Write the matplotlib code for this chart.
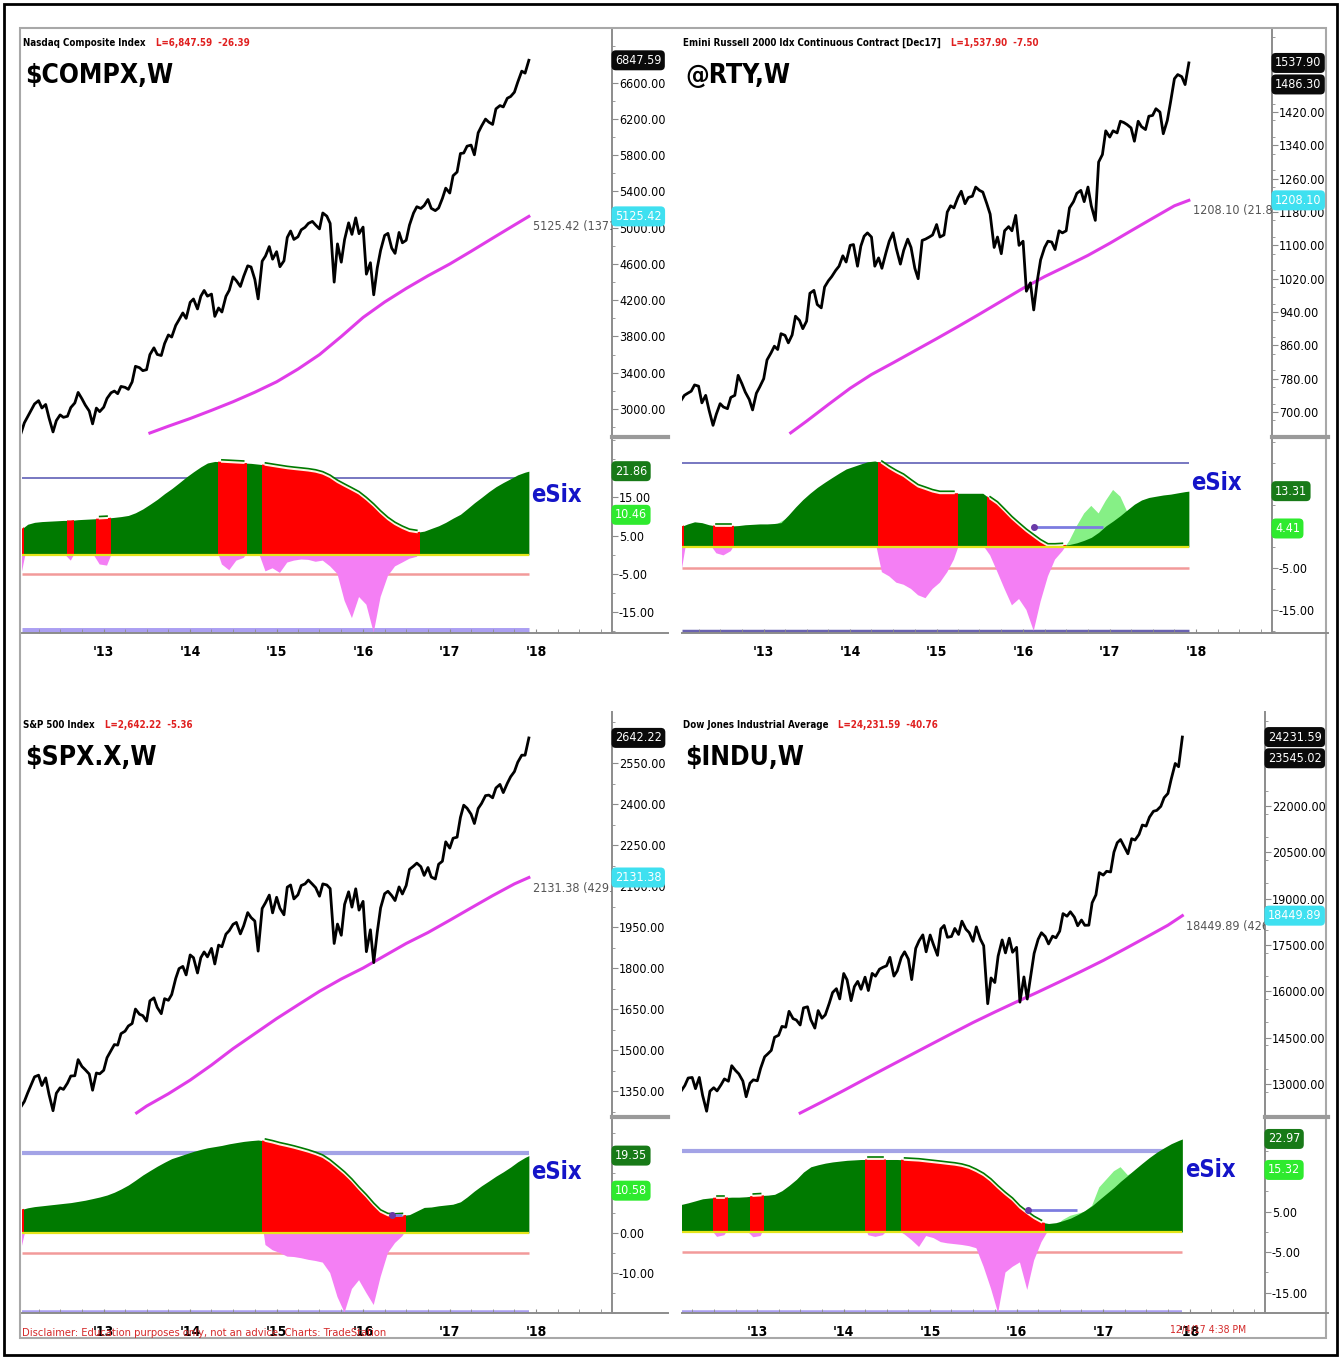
import numpy as np
import pandas as pd
import matplotlib
matplotlib.use("Agg")
import matplotlib.pyplot as plt
import matplotlib.dates as mdates
import matplotlib.ticker as mticker
import matplotlib.transforms as mtrans
from matplotlib.patches import Rectangle
from matplotlib.lines import Line2D
from datetime import datetime

W, H = 1343, 1360

# ---------------------------------------------------------------------------
# weekly charts, prices read off the picture on the 1st and 15th of each month
# (2012 starts on Jan 15, 2017 ends on Dec 1)
# ---------------------------------------------------------------------------
compx_2012 = [2710, 2848, 2915, 2988, 3056, 3092, 3011, 3050, 2902, 2747, 2872, 2935,
              2908, 2920, 3016, 3067, 3183, 3113, 3044, 2977, 2836, 3010, 2971]
compx_2013 = [3020, 3117, 3179, 3198, 3169, 3249, 3239, 3217, 3299, 3471, 3456, 3423,
              3434, 3600, 3675, 3602, 3590, 3722, 3817, 3794, 3922, 3985, 4060, 4000]
compx_2014 = [4177, 4214, 4104, 4244, 4308, 4245, 4268, 4022, 4115, 4070, 4243, 4310,
              4458, 4416, 4352, 4464, 4580, 4567, 4430, 4215, 4631, 4688, 4792, 4653]
compx_2015 = [4736, 4570, 4635, 4893, 4964, 4871, 4900, 4977, 5005, 5048, 5070, 5029,
              4987, 5163, 5128, 5048, 4400, 4822, 4620, 4870, 5054, 4927, 5109, 4934]
compx_2016 = [5007, 4488, 4614, 4260, 4558, 4750, 4915, 4938, 4775, 4717, 4948, 4834,
              4862, 5030, 5162, 5232, 5213, 5245, 5312, 5214, 5189, 5218, 5324, 5437]
compx_2017 = [5383, 5574, 5615, 5819, 5825, 5900, 5912, 5805, 6048, 6121, 6199, 6165,
              6140, 6312, 6348, 6333, 6429, 6448, 6496, 6606, 6728, 6706, 6848]

rty_2012 = [725, 740, 745, 750, 765, 762, 722, 740, 705, 668, 695, 720,
            712, 708, 735, 740, 788, 768, 748, 730, 705, 745, 760]
rty_2013 = [780, 825, 842, 858, 850, 888, 884, 866, 885, 930, 920, 900,
            918, 985, 992, 958, 950, 1000, 1015, 1025, 1040, 1050, 1075, 1060]
rty_2014 = [1100, 1102, 1050, 1098, 1122, 1130, 1120, 1050, 1070, 1045, 1082, 1110,
            1130, 1092, 1055, 1088, 1115, 1095, 1045, 1020, 1112, 1115, 1120, 1125]
rty_2015 = [1150, 1120, 1125, 1180, 1195, 1190, 1215, 1230, 1200, 1215, 1218, 1240,
            1232, 1228, 1200, 1175, 1095, 1120, 1080, 1135, 1145, 1135, 1172, 1100]
rty_2016 = [1110, 990, 1010, 945, 1015, 1065, 1095, 1110, 1108, 1090, 1135, 1130,
            1135, 1190, 1205, 1225, 1232, 1205, 1240, 1195, 1160, 1300, 1318, 1375]
rty_2017 = [1360, 1375, 1370, 1398, 1395, 1390, 1382, 1350, 1398, 1385, 1378, 1410,
            1412, 1428, 1420, 1368, 1400, 1445, 1500, 1510, 1505, 1486, 1538]

spx_2012 = [1289, 1312, 1343, 1374, 1402, 1408, 1370, 1398, 1338, 1278, 1342, 1362,
            1356, 1379, 1405, 1406, 1465, 1440, 1428, 1412, 1353, 1416, 1413]
spx_2013 = [1426, 1472, 1498, 1520, 1518, 1560, 1569, 1588, 1597, 1650, 1631, 1626,
            1606, 1680, 1691, 1656, 1633, 1688, 1682, 1703, 1762, 1798, 1806, 1775]
spx_2014 = [1848, 1838, 1782, 1838, 1859, 1841, 1872, 1815, 1884, 1878, 1924, 1937,
            1960, 1967, 1925, 1955, 2003, 1985, 1972, 1862, 2018, 2039, 2067, 2002]
spx_2015 = [2059, 2019, 1995, 2096, 2104, 2053, 2068, 2102, 2108, 2122, 2107, 2094,
            2063, 2108, 2104, 2091, 1890, 1961, 1920, 2033, 2079, 2023, 2090, 2012]
spx_2016 = [2044, 1860, 1940, 1820, 1932, 2020, 2072, 2081, 2065, 2047, 2097, 2071,
            2102, 2161, 2173, 2184, 2171, 2139, 2168, 2133, 2126, 2180, 2191, 2262]
spx_2017 = [2239, 2275, 2279, 2351, 2396, 2385, 2363, 2329, 2384, 2402, 2431, 2433,
            2423, 2459, 2472, 2442, 2476, 2500, 2519, 2553, 2579, 2579, 2642]

dji_2012 = [12422, 12633, 12781, 12952, 13194, 13212, 12850, 13213, 12632, 12119, 12767, 12880,
            12777, 12976, 13165, 13090, 13593, 13437, 13328, 13096, 12588, 13025, 13135]
dji_2013 = [13104, 13507, 13881, 13981, 14089, 14514, 14578, 14865, 14839, 15354, 15116, 15070,
            14910, 15464, 15500, 15081, 14810, 15376, 15130, 15237, 15615, 15962, 16086, 15755]
dji_2014 = [16577, 16374, 15699, 16154, 16322, 16066, 16458, 16026, 16581, 16491, 16717, 16776,
            16827, 17100, 16493, 16663, 17098, 17280, 17042, 16380, 17391, 17634, 17828, 17280]
dji_2015 = [17823, 17511, 17165, 18019, 18133, 17750, 17776, 18036, 17841, 18272, 18011, 17899,
            17620, 18086, 17690, 17477, 15600, 16434, 16285, 17141, 17664, 17245, 17720, 17265]
dji_2016 = [17425, 15650, 16466, 15750, 16517, 17229, 17685, 17897, 17774, 17535, 17787, 17733,
            17949, 18516, 18432, 18576, 18401, 18123, 18308, 18138, 18142, 18868, 19123, 19843]
dji_2017 = [19763, 19886, 19864, 20504, 20812, 20914, 20663, 20453, 20941, 20897, 21080, 21384,
            21350, 21637, 21830, 21858, 21988, 22268, 22405, 22871, 23377, 23271, 24232]

# pink 200-week average: first point, then every quarter start, then 12/1/17
compx_ma = [2735, 2810, 2895, 2985, 3080, 3185, 3300, 3440, 3600, 3800,
            4010, 4180, 4330, 4470, 4600, 4740, 4885, 5030, 5125.42]
rty_ma = [650, 678, 718, 757, 790, 818, 847, 876, 905, 935,
          966, 997, 1025, 1050, 1076, 1105, 1135, 1165, 1195, 1208.10]
spx_ma = [1270, 1295, 1340, 1390, 1445, 1505, 1560, 1615, 1665, 1715,
          1760, 1800, 1845, 1890, 1930, 1975, 2020, 2065, 2108, 2131.38]
dji_ma = [12060, 12420, 12790, 13160, 13530, 13900, 14270, 14630, 14990, 15330,
          15660, 15980, 16310, 16650, 17000, 17370, 17750, 18140, 18449.89]

# eSix indicator, read mid-month (the last point is the 12/1/17 value)
compx_slow = [6.5, 8.0, 8.5, 8.7, 8.8, 8.9, 9.0, 9.0, 9.2, 9.3, 9.4, 9.5,
              9.6, 9.8, 10.0, 10.3, 11.0, 12.0, 13.2, 14.5, 16.0, 17.3, 18.8, 20.3,
              21.7, 23.0, 24.0, 24.4, 24.3, 24.2, 24.1, 24.0, 23.9, 23.7, 23.5, 23.2,
              22.9, 22.6, 22.4, 22.2, 22.0, 21.7, 21.2, 20.3, 19.0, 18.0, 17.0, 16.0,
              14.5, 12.8, 11.0, 9.3, 8.0, 7.0, 6.2, 5.9, 6.2, 6.9, 7.6, 8.5,
              9.6, 10.6, 12.0, 13.6, 15.0, 16.5, 17.8, 18.9, 19.9, 20.9, 21.6, 21.86]
compx_fast = [-6.5, 3.0, 5.0, 4.0, 2.0, 1.0, 0.5, -1.5, 2.0, 1.5, 0.5, -2.5,
              -2.8, 2.0, 4.0, 5.0, 7.0, 8.0, 9.0, 10.0, 11.0, 12.0, 13.0, 14.0,
              15.0, 14.0, 10.0, 3.0, -2.5, -4.0, -1.5, -0.8, 2.0, 1.0, -4.3, -3.5,
              -4.7, -2.0, -1.5, -1.2, -1.3, -1.8, -1.5, -3.0, -5.0, -12.0, -16.5, -11.0,
              -13.0, -20.3, -11.0, -5.5, -3.0, -2.0, -1.0, -0.5, 2.0, 3.5, 5.0, 6.5,
              7.5, 8.5, 9.0, 9.5, 10.0, 10.0, 10.2, 10.3, 10.4, 10.4, 10.45, 10.46]

rty_slow = [4.8, 5.5, 6.0, 5.8, 5.3, 5.0, 5.0, 5.0, 5.1, 5.3, 5.4, 5.5,
            5.5, 5.6, 5.8, 7.6, 9.5, 11.3, 12.8, 14.2, 15.4, 16.5, 17.6, 18.6,
            19.2, 19.8, 20.3, 20.5, 20.0, 18.8, 17.8, 16.9, 15.6, 14.4, 13.8, 13.2,
            12.8, 12.8, 12.8, 12.8, 12.8, 12.8, 12.8, 11.5, 10.3, 8.6, 6.8, 5.3,
            3.8, 2.5, 1.3, 0.3, 0.3, 0.4, 0.6, 1.0, 1.6, 2.3, 3.5, 5.0,
            6.2, 7.5, 8.8, 10.2, 11.2, 11.8, 12.1, 12.4, 12.6, 12.9, 13.2, 13.31]
rty_fast = [-7.5, 3.0, 5.0, 4.0, 1.0, -1.5, -2.0, -1.0, 2.0, 2.5, 2.0, 3.0,
            4.0, 5.0, 6.0, 7.0, 9.0, 10.0, 11.0, 12.0, 13.0, 14.0, 15.0, 16.0,
            14.0, 12.0, 8.0, 2.0, -6.0, -7.0, -8.5, -9.0, -10.0, -11.5, -12.2, -10.0,
            -8.5, -6.0, -3.0, 2.0, 3.0, 2.0, 0.5, -2.0, -6.0, -10.0, -13.9, -12.4,
            -15.0, -20.0, -13.0, -7.0, -3.0, -1.0, 1.5, 5.0, 8.0, 9.8, 8.0, 11.0,
            13.6, 12.0, 8.5, 7.0, 5.0, 4.5, 4.5, 3.5, 4.0, 4.5, 4.4, 4.41]

spx_slow = [5.8, 6.3, 6.6, 6.8, 7.0, 7.2, 7.4, 7.6, 7.9, 8.2, 8.6, 9.0,
            9.5, 10.2, 11.0, 12.0, 13.2, 14.5, 15.6, 16.7, 17.7, 18.6, 19.2, 19.8,
            20.4, 20.9, 21.3, 21.6, 21.9, 22.3, 22.6, 22.9, 23.1, 23.25, 23.0, 22.6,
            22.1, 21.7, 21.3, 20.8, 20.3, 19.7, 19.0, 17.8, 16.3, 14.8, 13.0, 11.0,
            9.1, 7.0, 5.3, 4.4, 4.3, 4.4, 4.6, 5.5, 6.4, 6.5, 6.8, 7.0,
            7.2, 7.8, 9.0, 10.5, 11.8, 13.0, 14.2, 15.3, 16.5, 17.8, 18.9, 19.35]
spx_fast = [-5.0, 3.0, 4.0, 3.0, 2.0, 2.0, 3.0, 4.0, 4.0, 3.0, 2.0, 3.0,
            4.0, 5.0, 6.0, 7.0, 8.0, 9.0, 10.0, 11.0, 12.0, 13.0, 13.0, 14.0,
            14.0, 13.0, 12.0, 12.0, 12.0, 13.0, 13.0, 12.0, 11.0, 10.0, -3.0, -4.3,
            -5.0, -5.9, -6.0, -6.3, -6.7, -7.0, -7.4, -10.0, -16.0, -19.9, -14.0, -11.8,
            -15.0, -18.0, -11.0, -5.0, -2.5, -0.8, 2.0, 4.0, 5.0, 5.0, 5.5, 6.5,
            7.0, 7.5, 8.0, 8.5, 9.0, 9.3, 9.6, 9.9, 10.1, 10.3, 10.5, 10.58]

dji_slow = [6.5, 6.8, 7.2, 7.7, 8.2, 8.4, 8.5, 8.5, 8.6, 8.6, 8.7, 8.9,
            9.0, 9.1, 9.3, 10.2, 11.5, 13.0, 14.8, 16.1, 16.6, 17.0, 17.3, 17.5,
            17.7, 17.8, 17.9, 17.9, 17.9, 17.9, 17.9, 17.9, 17.8, 17.7, 17.6, 17.4,
            17.2, 17.0, 16.8, 16.6, 16.3, 15.8, 15.0, 14.0, 12.6, 10.9, 9.3, 7.9,
            6.0, 4.6, 3.4, 2.4, 2.1, 2.3, 2.8, 3.4, 4.3, 5.3, 6.5, 8.0,
            9.5, 11.0, 12.5, 14.0, 15.5, 17.0, 18.4, 19.7, 20.8, 21.8, 22.6, 22.97]
dji_fast = [3.0, 4.0, 5.0, 4.0, 2.0, 1.0, -1.2, -0.8, 2.0, 1.5, 0.5, -1.3,
            -1.0, 3.0, 5.0, 6.0, 8.0, 9.0, 10.0, 10.0, 10.0, 11.0, 12.0, 13.0,
            12.0, 8.0, 4.0, -0.8, -1.2, -0.8, 1.0, 0.5, -0.6, -2.0, -3.7, -1.0,
            -1.5, -2.5, -2.8, -3.0, -3.2, -3.5, -4.0, -8.6, -14.0, -20.0, -10.0, -8.6,
            -7.5, -14.3, -7.0, -2.5, 0.5, 1.5, 3.0, 4.0, 4.5, 5.0, 6.5, 11.0,
            13.0, 15.0, 16.0, 14.0, 15.0, 15.5, 16.0, 16.0, 16.0, 16.0, 15.5, 15.32]

# ---------------------------------------------------------------------------
plt.rcParams["font.family"] = ["DejaVu Sans"]
plt.rcParams["font.stretch"] = "condensed"

GRAY = "#8c8c8c"
GREEN = "#007a00"
RED = "#ff0000"
PINK = "#f47ff4"
LTGREEN = "#86f086"
MAGENTA = "#e03ce8"
CYAN = "#3fe0f0"
DKGREEN = "#187a18"
LIME = "#2eea2e"

fig = plt.figure(figsize=(W / 100, H / 100), dpi=100)
fig.patch.set_facecolor("white")


def rect(x0, y0, x1, y1):
    return [x0 / W, 1 - y1 / H, (x1 - x0) / W, (y1 - y0) / H]


def ftext(x, y, s, **kw):
    return fig.text(x / W, 1 - y / H, s, **kw)


def fig_line(x0, y0, x1, y1, color, lw):
    fig.add_artist(Line2D([x0 / W, x1 / W], [1 - y0 / H, 1 - y1 / H],
                          color=color, lw=lw, transform=fig.transFigure))


def dnum(s):
    return mdates.date2num(pd.Timestamp(s).to_pydatetime())


def ma_dates(start):
    s = pd.Timestamp(start)
    q = pd.date_range(s + pd.offsets.QuarterBegin(startingMonth=1), "2017-10-01", freq="QS-JAN")
    d = [s.to_pydatetime()] + list(q.to_pydatetime()) + [datetime(2017, 12, 1)]
    return mdates.date2num(d)


IND_DATES = mdates.date2num(
    list((pd.date_range("2012-01-01", "2017-11-01", freq="MS") + pd.Timedelta(days=14)).to_pydatetime())
    + [datetime(2017, 12, 1)])

YEARS = [dnum(f"{y}-01-01") for y in range(2013, 2019)]
YEAR_LABELS = ["'13", "'14", "'15", "'16", "'17", "'18"]
QUARTERS = [dnum(d) for d in pd.date_range("2012-04-01", "2018-10-01", freq="QS-JAN")]


def value_box(ax, v, txt, col, fs=9):
    tr = mtrans.blended_transform_factory(ax.transAxes, ax.transData)
    ax.text(1.005, v, txt, transform=tr, ha="left", va="center", color="white",
            fontsize=fs, clip_on=False, zorder=10,
            bbox=dict(boxstyle="round,pad=0.28,rounding_size=0.35", fc=col, ec="none"))


def draw_chart(c):
    xa, xb = c["x0"], c["x1"]
    xl = (dnum(c["xlim"][0]), dnum(c["xlim"][1]))

    # ---- price pane ----
    axp = fig.add_axes(rect(xa, c["top"], xb, c["split"]))
    pdates = mdates.date2num(pd.date_range("2012-01-15", periods=len(c["price"]), freq="SMS").to_pydatetime())
    axp.plot(pdates, c["price"], color="black", lw=2.0, zorder=3)
    md = ma_dates(c["ma_start"])
    axp.plot(md[:len(c["ma"])], c["ma"], color=MAGENTA, lw=2.2, zorder=2)
    axp.set_xlim(*xl)
    axp.set_ylim(*c["pylim"])
    axp.yaxis.tick_right()
    axp.set_yticks(c["pticks"])
    axp.yaxis.set_major_formatter(mticker.FormatStrFormatter("%.2f"))
    axp.yaxis.set_minor_locator(mticker.MultipleLocator(c["pstep"] / 2))
    axp.tick_params(axis="y", which="both", colors=GRAY, labelcolor="black",
                    labelsize=9, length=4, pad=1)
    axp.tick_params(axis="y", which="minor", length=2)
    axp.tick_params(axis="x", which="both", bottom=False, labelbottom=False)
    for s in ("left", "top", "bottom"):
        axp.spines[s].set_visible(False)
    axp.spines["right"].set_color(GRAY)
    axp.spines["right"].set_linewidth(1.4)

    for v, col in c["pboxes"]:
        value_box(axp, v, f"{v:.2f}", col)
    off = axp.transData + mtrans.ScaledTranslation(4 / 100, -4 / 100, fig.dpi_scale_trans)
    axp.text(md[len(c["ma"]) - 1], c["ma"][-1], c["ma_text"], transform=off, ha="left", va="top",
             color="#555555", fontsize=9, clip_on=True)

    t1 = ftext(xa + 1, c["top"] + 13, c["name"], fontsize=7, fontweight="bold", va="center")
    axp.annotate(c["last"], xy=(1, 0.5), xycoords=t1, xytext=(10, 0), textcoords="offset pixels",
                 va="center", ha="left", color="#e02020", fontsize=7, fontweight="bold",
                 annotation_clip=False)
    ftext(xa + 3, c["top"] + 46, c["symbol"], fontsize=19, fontweight="bold", va="center")

    # ---- eSix pane ----
    axi = fig.add_axes(rect(xa, c["ind_top"], xb, c["bottom"]))
    d = IND_DATES
    slow = np.array(c["slow"], dtype=float)
    fast = np.array(c["fast"], dtype=float)
    tcol, tlw, bcol, blw = c["lines"]
    axi.hlines(20, xl[0], d[-1], color=tcol, lw=tlw, zorder=0.5)
    axi.hlines(-5, xl[0], d[-1], color="#f29a9a", lw=1.8, zorder=0.5)
    axi.hlines(-20, xl[0], d[-1], color=bcol, lw=blw, zorder=0.5)

    axi.fill_between(d, 0, fast, where=fast < 0, interpolate=True, color=PINK, lw=0, zorder=1)
    axi.fill_between(d, 0, fast, where=fast > 0, interpolate=True, color=LTGREEN, lw=0, zorder=1)
    green = axi.fill_between(d, 0, slow, color=GREEN, lw=0, zorder=2)
    gpath = green.get_paths()[0]

    up = mtrans.offset_copy(axi.transData, fig=fig, x=0, y=2, units="dots")
    neg = fast < 0
    i = 0
    while i < len(neg):
        if neg[i]:
            j = i
            while j + 1 < len(neg) and neg[j + 1]:
                j += 1
            r = Rectangle((d[i] - 15.2, 0), d[j] - d[i] + 30.4, 40, facecolor=RED,
                          edgecolor="none", zorder=2.2)
            axi.add_patch(r)
            r.set_clip_path(gpath, axi.transData)
            if j > i:
                axi.plot(d[i:j + 1], slow[i:j + 1], color="#fff2e0", lw=1.3, zorder=3)
                axi.plot(d[i:j + 1], slow[i:j + 1], color=GREEN, lw=1.2, zorder=3.1, transform=up)
            i = j + 1
        else:
            i += 1

    axi.hlines(0, xl[0], d[-1], color="#e5e51a", lw=1.6, zorder=4)

    if c["signal"]:
        s0, s1, lvl = c["signal"]
        axi.hlines(lvl, dnum(s0), dnum(s1), color="#7c7ce0", lw=2, zorder=5)
        axi.plot([dnum(s0)], [lvl], "o", color="#6a3aa8", ms=4, zorder=6)

    axi.text(d[-1] + 10, c["esix_y"], "eSix", color="#1414c8", fontsize=17,
             fontweight="bold", ha="left", va="center", clip_on=False)

    axi.set_xlim(*xl)
    axi.set_ylim(*c["iylim"])
    axi.yaxis.tick_right()
    axi.set_yticks(c["iticks"])
    axi.yaxis.set_major_formatter(mticker.FormatStrFormatter("%.2f"))
    axi.yaxis.set_minor_locator(mticker.MultipleLocator(5))
    axi.tick_params(axis="y", which="both", colors=GRAY, labelcolor="black",
                    labelsize=9, length=4, pad=1)
    axi.tick_params(axis="y", which="minor", length=2)
    axi.set_xticks(YEARS, YEAR_LABELS, fontweight="bold")
    axi.set_xticks(QUARTERS, minor=True)
    axi.tick_params(axis="x", which="both", direction="in", length=3, colors=GRAY,
                    labelcolor="black", labelsize=10, pad=9)
    for s in ("left", "top"):
        axi.spines[s].set_visible(False)
    for s in ("right", "bottom"):
        axi.spines[s].set_color(GRAY)
        axi.spines[s].set_linewidth(1.4)
    for v, col in c["iboxes"]:
        value_box(axi, v, f"{v:.2f}", col)

    fig_line(xb, c["split"], c["lab_right"], c["split"], "#9a9a9a", 3)
    fig_line(xb, c["bottom"], c["lab_right"], c["bottom"], GRAY, 1.4)


def join(*rows):
    out = []
    for r in rows:
        out += r
    return out


charts = [
    dict(x0=22, x1=612, top=30, split=437, ind_top=440, bottom=633, lab_right=668,
         xlim=("2012-01-22", "2018-11-17"),
         price=join(compx_2012, compx_2013, compx_2014, compx_2015, compx_2016, compx_2017),
         ma_start="2013-07-15", ma=compx_ma, slow=compx_slow, fast=compx_fast,
         pylim=(2691, 7182), pticks=list(range(3000, 6601, 400)), pstep=400,
         iylim=(-20.4, 30.0), iticks=[-15, -5, 5, 15],
         pboxes=[(6847.59, "#0a0a0a"), (5125.42, CYAN)], iboxes=[(21.86, DKGREEN), (10.46, LIME)],
         ma_text="5125.42 (1371.27)", name="Nasdaq Composite Index", last="L=6,847.59  -26.39",
         symbol=r"\$COMPX,W", signal=None, esix_y=15.6,
         lines=("#6c6cbc", 1.3, "#ab9ff2", 5)),
    dict(x0=682, x1=1272, top=30, split=437, ind_top=440, bottom=633, lab_right=1328,
         xlim=("2012-01-22", "2018-11-17"),
         price=join(rty_2012, rty_2013, rty_2014, rty_2015, rty_2016, rty_2017),
         ma_start="2013-04-25", ma=rty_ma, slow=rty_slow, fast=rty_fast,
         pylim=(640, 1617), pticks=list(range(700, 1501, 80)), pstep=80,
         iylim=(-20.5, 25.5), iticks=[-15, -5],
         pboxes=[(1537.90, "#0a0a0a"), (1486.30, "#0a0a0a"), (1208.10, CYAN)],
         iboxes=[(13.31, DKGREEN), (4.41, LIME)],
         ma_text="1208.10 (21.81)", name="Emini Russell 2000 Idx Continuous Contract [Dec17]",
         last="L=1,537.90  -7.50", symbol="@RTY,W", signal=("2016-02-15", "2016-12-05", 4.7),
         esix_y=15.2, lines=("#6c6cbc", 1.3, "#6a62b0", 2.5)),
    dict(x0=22, x1=612, top=712, split=1117, ind_top=1120, bottom=1313, lab_right=668,
         xlim=("2012-01-22", "2018-11-17"),
         price=join(spx_2012, spx_2013, spx_2014, spx_2015, spx_2016, spx_2017),
         ma_start="2013-05-20", ma=spx_ma, slow=spx_slow, fast=spx_fast,
         pylim=(1255, 2737), pticks=list(range(1350, 2551, 150)), pstep=150,
         iylim=(-20.0, 28.25), iticks=[-10, 0],
         pboxes=[(2642.22, "#0a0a0a"), (2131.38, CYAN)], iboxes=[(19.35, DKGREEN), (10.58, LIME)],
         ma_text="2131.38 (429.16)", name="S&P 500 Index", last="L=2,642.22  -5.36",
         symbol=r"\$SPX.X,W", signal=("2016-05-01", "2016-06-12", 4.5), esix_y=15.3,
         lines=("#a3a3e6", 3, "#ab9ff2", 4)),
    dict(x0=682, x1=1265, top=712, split=1117, ind_top=1120, bottom=1313, lab_right=1328,
         xlim=("2012-02-18", "2018-11-15"),
         price=join(dji_2012, dji_2013, dji_2014, dji_2015, dji_2016, dji_2017),
         ma_start="2013-07-01", ma=dji_ma, slow=dji_slow, fast=dji_fast,
         pylim=(11932, 25043), pticks=list(range(13000, 22001, 1500)), pstep=1500,
         iylim=(-20.0, 27.65), iticks=[-15, -5, 5],
         pboxes=[(24231.59, "#0a0a0a"), (23545.02, "#0a0a0a"), (18449.89, CYAN)],
         iboxes=[(22.97, DKGREEN), (15.32, LIME)],
         ma_text="18449.89 (426.33)", name="Dow Jones Industrial Average", last="L=24,231.59  -40.76",
         symbol=r"\$INDU,W", signal=("2016-02-20", "2016-09-10", 5.4), esix_y=15.3,
         lines=("#a3a3e6", 3, "#ab9ff2", 4)),
]

for c in charts:
    draw_chart(c)

# frames
fig.add_artist(Rectangle((4 / W, 1 - 1355 / H), 1333 / W, 1351 / H, transform=fig.transFigure,
                         fill=False, ec="black", lw=2))
fig.add_artist(Rectangle((20 / W, 1 - 1338 / H), 1306 / W, 1310 / H, transform=fig.transFigure,
                         fill=False, ec="#a8a8a8", lw=1.5))

ftext(22, 1333, "Disclaimer: Education purposes only, not an advice. Charts: TradeStation",
      color="#d42a2a", fontsize=8, va="center", zorder=10)
ftext(1170, 1330, "12/4/17 4:38 PM", color="#d42a2a", fontsize=7.5, va="center")

fig.savefig("out.png", dpi=100, facecolor="white")
